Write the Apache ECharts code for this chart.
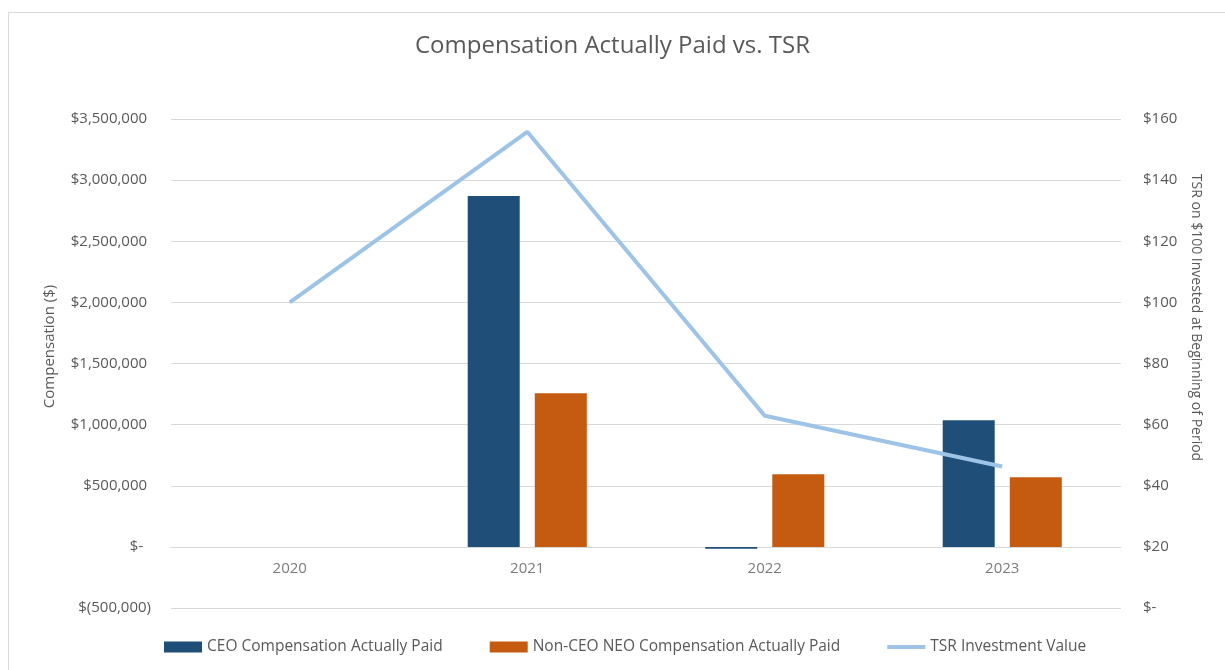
<!DOCTYPE html>
<html>
<head>
<meta charset="utf-8">
<script src="https://cdn.jsdelivr.net/npm/echarts@6/dist/echarts.min.js"></script>
<style>
html,body{margin:0;padding:0;background:#fff;}
#chart{width:1225px;height:670px;}
</style>
</head>
<body>
<div id="chart"></div>
<script>
const categories = ['2020', '2021', '2022', '2023'];
const ceoComp = [null, 2870000, -15000, 1036000];
const nonCeoComp = [null, 1257000, 594000, 570000];
const tsrValue = [100, 155.8, 62.9, 46.3];
const leftTicks = { min: -500000, max: 3500000, interval: 500000 };
const rightTicks = { min: 0, max: 160, interval: 20 };

function fmtMoney(v) {
  if (v === 0) return '$-  ';
  const s = Math.abs(v).toLocaleString('en-US');
  return v < 0 ? '$(' + s + ')' : '$' + s + ' ';
}

const FONT = 'Open Sans';
const GREY = '#595959';
const chart = echarts.init(document.getElementById('chart'));
chart.setOption({
  backgroundColor: '#ffffff',
  animation: false,
  graphic: [{
    type: 'rect',
    shape: { x: 8.5, y: 12.5, width: 1300, height: 700 },
    style: { fill: 'none', stroke: '#D9D9D9', lineWidth: 1 },
    silent: true
  }],
  title: {
    text: 'Compensation Actually Paid vs. TSR',
    left: 'center',
    top: 29,
    textStyle: { fontFamily: FONT, fontSize: 24, fontWeight: 'normal', color: GREY }
  },
  legend: {
    left: 159,
    top: 634,
    itemWidth: 38,
    itemHeight: 11,
    itemGap: 47,
    textStyle: { fontFamily: FONT, fontSize: 15.5, color: GREY },
    data: [
      { name: 'CEO Compensation Actually Paid', icon: 'rect' },
      { name: 'Non-CEO NEO Compensation Actually Paid', icon: 'rect' },
      { name: 'TSR Investment Value', icon: 'path://M0,0H38V4H0Z' }
    ]
  },
  grid: { left: 171, right: 104, top: 119, bottom: 62 },
  xAxis: {
    type: 'category',
    data: categories,
    axisLine: { show: true, onZero: true, onZeroAxisIndex: 0, lineStyle: { color: '#D9D9D9', width: 1 } },
    axisTick: { show: false },
    axisLabel: { show: false }
  },
  yAxis: [{
    type: 'value',
    min: leftTicks.min,
    max: leftTicks.max,
    interval: leftTicks.interval,
    name: 'Compensation ($)',
    nameLocation: 'middle',
    nameGap: 114,
    nameTextStyle: { fontFamily: FONT, fontSize: 15, color: GREY, padding: [0, 0, 0, 34] },
    axisLine: { show: false },
    axisTick: { show: false },
    axisLabel: { fontFamily: FONT, fontSize: 15, color: GREY, margin: 20, formatter: fmtMoney },
    splitLine: { lineStyle: { color: '#D9D9D9', width: 1 } }
  }, {
    type: 'value',
    position: 'right',
    min: rightTicks.min,
    max: rightTicks.max,
    interval: rightTicks.interval,
    name: 'TSR on $100 Invested at Beginning of Period',
    nameLocation: 'middle',
    nameRotate: -90,
    nameGap: 68,
    nameTextStyle: { fontFamily: FONT, fontSize: 14, color: GREY, padding: [0, 92, 0, 0] },
    axisLine: { show: false },
    axisTick: { show: false },
    axisLabel: { fontFamily: FONT, fontSize: 15, color: GREY, margin: 22,
      formatter: v => v === 0 ? '$-' : '$' + v },
    splitLine: { show: false }
  }],
  series: [{
    name: 'CEO Compensation Actually Paid',
    type: 'bar',
    yAxisIndex: 0,
    data: ceoComp,
    barWidth: 52,
    barGap: '29%',
    itemStyle: { color: '#1F4E79' }
  }, {
    name: 'Non-CEO NEO Compensation Actually Paid',
    type: 'bar',
    yAxisIndex: 0,
    data: nonCeoComp,
    barWidth: 52,
    barGap: '29%',
    itemStyle: { color: '#C55A11' }
  }, {
    name: 'TSR Investment Value',
    type: 'line',
    yAxisIndex: 1,
    data: tsrValue,
    symbol: 'none',
    lineStyle: { color: '#9DC3E6', width: 4 },
    itemStyle: { color: '#9DC3E6' },
    z: 5
  }, {
    name: 'category labels',
    type: 'scatter',
    yAxisIndex: 0,
    data: categories.map(c => [c, 0]),
    symbolSize: 0,
    silent: true,
    tooltip: { show: false },
    label: {
      show: true,
      position: 'bottom',
      distance: 14,
      fontFamily: FONT,
      fontSize: 15,
      color: GREY,
      formatter: p => p.value[0]
    }
  }]
});
</script>
</body>
</html>
